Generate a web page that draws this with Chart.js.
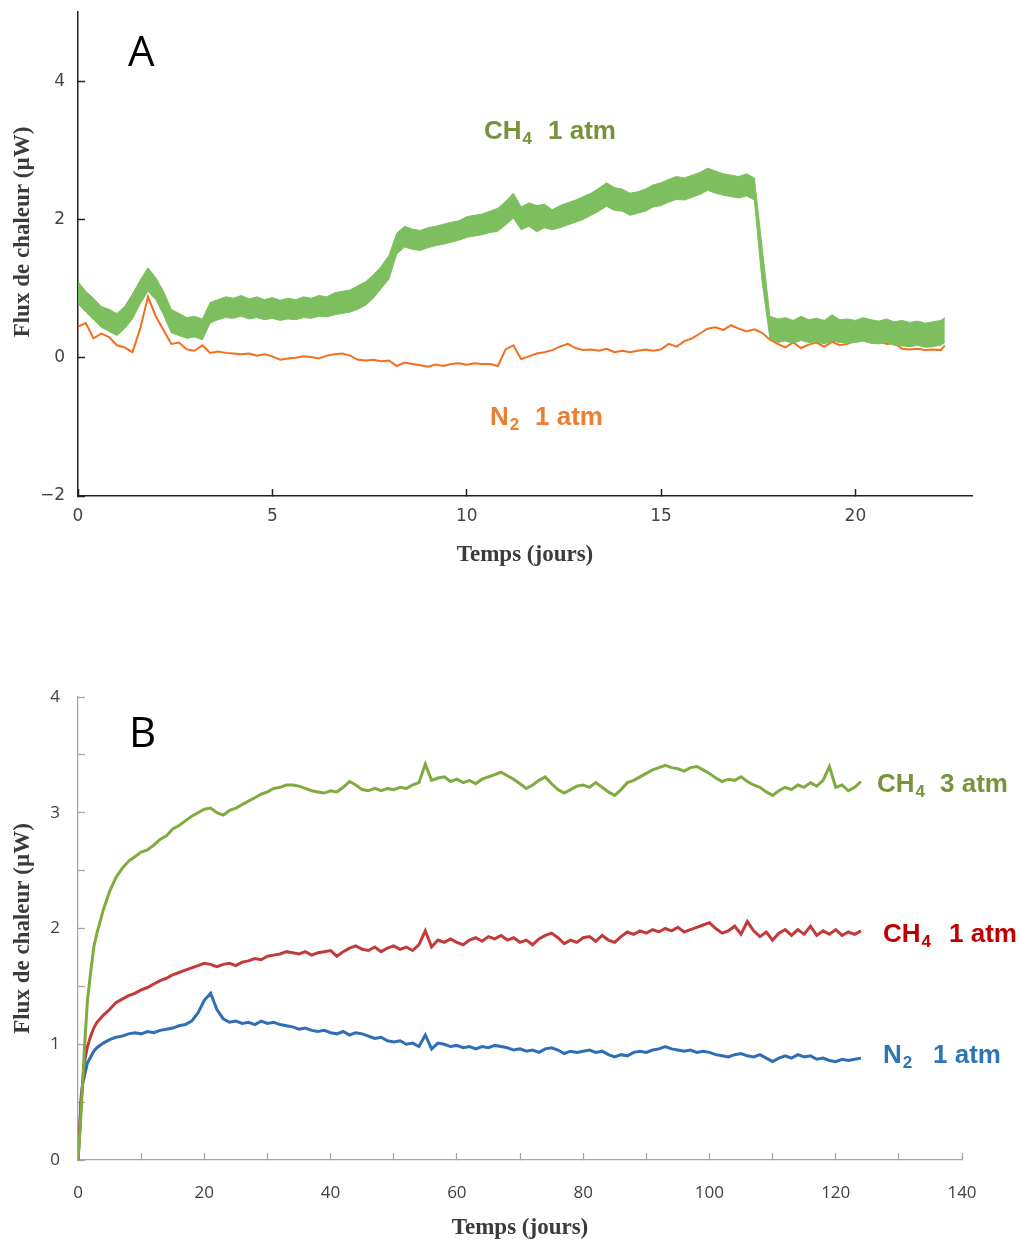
<!DOCTYPE html>
<html>
<head>
<meta charset="utf-8">
<script src="https://cdn.jsdelivr.net/npm/chart.js@4.4.1/dist/chart.umd.min.js"></script>
<style>
  body { margin: 0; background: #fff; }
  #wrap { position: relative; width: 1020px; height: 1245px; }
  canvas { position: absolute; left: 0; }
  #chartA { top: 0; }
  #chartB { top: 600px; }
</style>
</head>
<body>
<div id="wrap">
  <canvas id="chartA" width="1020" height="580"></canvas>
  <canvas id="chartB" width="1020" height="645"></canvas>
</div>
<script>
// ---- Panel A : 1 atm, 0-22 jours ----
const daysA = [
  0, 0.2, 0.4, 0.6, 0.8, 1, 1.2, 1.4, 1.6, 1.8,
  2, 2.2, 2.4, 2.6, 2.8, 3, 3.2, 3.4, 3.6, 3.8,
  4, 4.2, 4.4, 4.6, 4.8, 5, 5.2, 5.4, 5.6, 5.8,
  6, 6.2, 6.4, 6.6, 6.8, 7, 7.2, 7.4, 7.6, 7.8,
  8, 8.2, 8.4, 8.6, 8.8, 9, 9.2, 9.4, 9.6, 9.8,
  10, 10.2, 10.4, 10.6, 10.8, 11, 11.2, 11.4, 11.6, 11.8,
  12, 12.2, 12.4, 12.6, 12.8, 13, 13.2, 13.4, 13.6, 13.8,
  14, 14.2, 14.4, 14.6, 14.8, 15, 15.2, 15.4, 15.6, 15.8,
  16, 16.2, 16.4, 16.6, 16.8, 17, 17.2, 17.4, 17.6, 17.8,
  18, 18.2, 18.4, 18.6, 18.8, 19, 19.2, 19.4, 19.6, 19.8,
  20, 20.2, 20.4, 20.6, 20.8, 21, 21.2, 21.4, 21.6, 21.8,
  22, 22.2, 22.3
];
// CH4 1 atm: the signal is a noisy band, kept as its upper and lower envelope
const ch4UpperA = [
  1.10, 0.96, 0.86, 0.74, 0.70, 0.64, 0.74, 0.92, 1.12, 1.30,
  1.16, 0.96, 0.70, 0.64, 0.58, 0.60, 0.56, 0.80, 0.84, 0.88,
  0.86, 0.90, 0.85, 0.88, 0.84, 0.87, 0.83, 0.86, 0.84, 0.88,
  0.86, 0.90, 0.88, 0.94, 0.96, 0.98, 1.04, 1.10, 1.20, 1.32,
  1.48, 1.80, 1.90, 1.86, 1.84, 1.88, 1.90, 1.93, 1.96, 1.98,
  2.04, 2.06, 2.08, 2.12, 2.16, 2.26, 2.38, 2.18, 2.24, 2.20,
  2.22, 2.14, 2.20, 2.24, 2.28, 2.33, 2.38, 2.45, 2.53, 2.46,
  2.44, 2.38, 2.40, 2.44, 2.50, 2.53, 2.58, 2.62, 2.60, 2.64,
  2.68, 2.74, 2.70, 2.66, 2.64, 2.62, 2.66, 2.60, 1.60, 0.60,
  0.56, 0.58, 0.54, 0.60, 0.55, 0.57, 0.54, 0.62, 0.55, 0.56,
  0.54, 0.58, 0.55, 0.53, 0.56, 0.52, 0.54, 0.51, 0.53, 0.50,
  0.52, 0.54, 0.58
];
const ch4LowerA = [
  0.78, 0.66, 0.55, 0.44, 0.38, 0.32, 0.42, 0.56, 0.78, 0.96,
  0.84, 0.62, 0.36, 0.32, 0.28, 0.30, 0.26, 0.50, 0.55, 0.58,
  0.57, 0.60, 0.56, 0.58, 0.55, 0.57, 0.54, 0.56, 0.55, 0.58,
  0.57, 0.60, 0.59, 0.62, 0.64, 0.66, 0.70, 0.76, 0.86, 1.00,
  1.14, 1.50, 1.60, 1.57, 1.55, 1.59, 1.62, 1.64, 1.67, 1.70,
  1.74, 1.76, 1.78, 1.81, 1.83, 1.92, 2.02, 1.85, 1.90, 1.82,
  1.88, 1.85, 1.88, 1.92, 1.96, 2.00, 2.06, 2.12, 2.19, 2.13,
  2.12, 2.06, 2.09, 2.12, 2.18, 2.20, 2.25, 2.29, 2.28, 2.32,
  2.36, 2.42, 2.38, 2.35, 2.33, 2.31, 2.34, 2.28, 1.10, 0.28,
  0.22, 0.24, 0.21, 0.25, 0.22, 0.23, 0.20, 0.24, 0.22, 0.21,
  0.22, 0.24, 0.21, 0.20, 0.22, 0.18, 0.17, 0.16, 0.18, 0.15,
  0.16, 0.18, 0.22
];
const n2A = [
  0.45, 0.50, 0.28, 0.35, 0.30, 0.18, 0.15, 0.08, 0.42, 0.88,
  0.60, 0.40, 0.20, 0.22, 0.12, 0.10, 0.18, 0.07, 0.09, 0.07,
  0.06, 0.05, 0.06, 0.03, 0.05, 0.02, -0.03, -0.01, 0.00, 0.02,
  0.01, -0.01, 0.03, 0.05, 0.06, 0.03, -0.03, -0.04, -0.03, -0.05,
  -0.04, -0.12, -0.07, -0.09, -0.11, -0.13, -0.10, -0.12, -0.09, -0.08,
  -0.10, -0.08, -0.09, -0.09, -0.12, 0.12, 0.18, -0.02, 0.02, 0.06,
  0.08, 0.11, 0.16, 0.20, 0.14, 0.11, 0.12, 0.10, 0.13, 0.08,
  0.10, 0.08, 0.10, 0.12, 0.10, 0.12, 0.20, 0.16, 0.24, 0.28,
  0.35, 0.42, 0.44, 0.40, 0.47, 0.42, 0.38, 0.41, 0.36, 0.26,
  0.20, 0.15, 0.22, 0.14, 0.19, 0.22, 0.16, 0.23, 0.18, 0.20,
  0.25, 0.26, 0.22, 0.24, 0.20, 0.21, 0.13, 0.12, 0.13, 0.11,
  0.12, 0.11, 0.18
];

// ---- Panel B : 0-124 jours ----
const daysB = [
  0, 0.25, 0.5, 0.75, 1, 1.5, 2, 2.5, 3,
  4, 5, 6, 7, 8, 9, 10, 11, 12, 13,
  14, 15, 16, 17, 18, 19, 20, 21, 22, 23,
  24, 25, 26, 27, 28, 29, 30, 31, 32, 33,
  34, 35, 36, 37, 38, 39, 40, 41, 42, 43,
  44, 45, 46, 47, 48, 49, 50, 51, 52, 53,
  54, 55, 56, 57, 58, 59, 60, 61, 62, 63,
  64, 65, 66, 67, 68, 69, 70, 71, 72, 73,
  74, 75, 76, 77, 78, 79, 80, 81, 82, 83,
  84, 85, 86, 87, 88, 89, 90, 91, 92, 93,
  94, 95, 96, 97, 98, 99, 100, 101, 102, 103,
  104, 105, 106, 107, 108, 109, 110, 111, 112, 113,
  114, 115, 116, 117, 118, 119, 120, 121, 122, 123,
  124
];
const ch4_3atmB = [
  0, 0.20, 0.42, 0.68, 0.95, 1.38, 1.62, 1.84, 1.96,
  2.16, 2.32, 2.44, 2.52, 2.58, 2.62, 2.66, 2.68, 2.72, 2.77,
  2.80, 2.86, 2.89, 2.93, 2.97, 3.00, 3.03, 3.04, 3.00, 2.98,
  3.02, 3.04, 3.07, 3.10, 3.13, 3.16, 3.18, 3.21, 3.22, 3.24,
  3.24, 3.23, 3.21, 3.19, 3.18, 3.17, 3.19, 3.18, 3.22, 3.27,
  3.24, 3.20, 3.19, 3.21, 3.19, 3.21, 3.20, 3.22, 3.21, 3.24,
  3.26, 3.42, 3.28, 3.30, 3.31, 3.27, 3.29, 3.26, 3.28, 3.25,
  3.29, 3.31, 3.33, 3.35, 3.32, 3.29, 3.25, 3.21, 3.24, 3.28,
  3.31, 3.25, 3.20, 3.17, 3.20, 3.23, 3.24, 3.22, 3.26, 3.22,
  3.18, 3.15, 3.20, 3.26, 3.28, 3.31, 3.34, 3.37, 3.39, 3.41,
  3.39, 3.38, 3.36, 3.39, 3.40, 3.37, 3.34, 3.30, 3.27, 3.29,
  3.28, 3.31, 3.27, 3.24, 3.22, 3.18, 3.15, 3.19, 3.22, 3.20,
  3.24, 3.22, 3.26, 3.23, 3.28, 3.40, 3.22, 3.24, 3.19, 3.22,
  3.27
];
const ch4_1atmB = [
  0, 0.26, 0.50, 0.68, 0.84, 0.98, 1.07, 1.14, 1.19,
  1.25, 1.30, 1.36, 1.39, 1.42, 1.44, 1.47, 1.49, 1.52, 1.55,
  1.57, 1.60, 1.62, 1.64, 1.66, 1.68, 1.70, 1.69, 1.67, 1.69,
  1.70, 1.68, 1.71, 1.72, 1.74, 1.73, 1.76, 1.77, 1.78, 1.80,
  1.79, 1.78, 1.80, 1.77, 1.79, 1.80, 1.81, 1.76, 1.80, 1.83,
  1.85, 1.82, 1.81, 1.84, 1.80, 1.83, 1.85, 1.82, 1.84, 1.81,
  1.86, 1.98, 1.84, 1.90, 1.88, 1.91, 1.88, 1.86, 1.90, 1.92,
  1.89, 1.93, 1.91, 1.94, 1.90, 1.92, 1.88, 1.90, 1.86, 1.91,
  1.94, 1.96, 1.92, 1.87, 1.90, 1.88, 1.92, 1.93, 1.89, 1.94,
  1.90, 1.88, 1.93, 1.97, 1.95, 1.98, 1.96, 1.99, 1.97, 2.00,
  1.98, 2.01, 1.97, 1.99, 2.01, 2.03, 2.05, 2.00, 1.96, 1.98,
  2.02, 1.95, 2.06, 1.98, 1.93, 1.97, 1.90, 1.96, 1.99, 1.94,
  1.99, 1.95, 2.02, 1.94, 1.98, 1.95, 1.99, 1.94, 1.97, 1.95,
  1.98
];
const n2B = [
  0, 0.22, 0.55, 0.66, 0.72, 0.84, 0.89, 0.94, 0.97,
  1.01, 1.04, 1.06, 1.07, 1.09, 1.10, 1.09, 1.11, 1.10, 1.12,
  1.13, 1.14, 1.16, 1.17, 1.20, 1.27, 1.38, 1.44, 1.30, 1.22,
  1.19, 1.20, 1.18, 1.19, 1.17, 1.20, 1.18, 1.19, 1.17, 1.16,
  1.15, 1.13, 1.14, 1.12, 1.11, 1.12, 1.10, 1.09, 1.11, 1.08,
  1.10, 1.09, 1.07, 1.05, 1.06, 1.03, 1.02, 1.03, 1.00, 1.01,
  0.98, 1.08, 0.96, 1.01, 1.00, 0.98, 0.99, 0.97, 0.98, 0.96,
  0.98, 0.97, 0.99, 0.98, 0.97, 0.95, 0.96, 0.94, 0.95, 0.93,
  0.96, 0.97, 0.95, 0.92, 0.94, 0.93, 0.94, 0.95, 0.93, 0.94,
  0.91, 0.89, 0.91, 0.90, 0.93, 0.94, 0.93, 0.95, 0.96, 0.98,
  0.96, 0.95, 0.94, 0.95, 0.93, 0.94, 0.93, 0.91, 0.90, 0.89,
  0.91, 0.92, 0.90, 0.89, 0.91, 0.88, 0.85, 0.88, 0.90, 0.88,
  0.91, 0.89, 0.90, 0.87, 0.88, 0.86, 0.85, 0.87, 0.86, 0.87,
  0.88
];

function pts(xs, ys) {
  return xs.map(function (x, i) { return { x: x, y: ys[i] }; });
}

const labelFont = 'bold 26px "Liberation Sans", Arial, sans-serif';
const titleFont = { family: '"Liberation Serif", "Times New Roman", serif', size: 23, weight: 'bold' };

// draws the curve names (with subscripts), the panel letters and rotated titles
const textLabels = {
  id: 'textLabels',
  afterDatasetsDraw(chart, args, opts) {
    const ctx = chart.ctx;
    ctx.save();
    ctx.textAlign = 'left';
    ctx.textBaseline = 'alphabetic';
    (opts.items || []).forEach(function (it) {
      ctx.fillStyle = it.color;
      if (it.rotate) {
        ctx.save();
        ctx.translate(it.x, it.y);
        ctx.rotate(-Math.PI / 2);
        ctx.font = it.font;
        ctx.textAlign = 'center';
        ctx.textBaseline = 'middle';
        ctx.fillText(it.main, 0, 0);
        ctx.restore();
        return;
      }
      ctx.font = it.font || labelFont;
      ctx.fillText(it.main, it.x, it.y);
      if (it.sub) {
        const w = ctx.measureText(it.main).width;
        ctx.font = 'bold 17px "Liberation Sans", Arial, sans-serif';
        ctx.fillText(it.sub, it.x + w + 1, it.y + 5);
      }
      if (it.rest) {
        ctx.font = it.font || labelFont;
        ctx.fillText(it.rest, it.restX, it.y);
      }
    });
    ctx.restore();
  }
};

new Chart(document.getElementById('chartA'), {
  type: 'line',
  data: {
    datasets: [{
      label: 'CH4 1 atm (haut)',
      data: pts(daysA, ch4UpperA),
      borderColor: '#7dbf5f',
      borderWidth: 1,
      pointRadius: 0,
      fill: false
    }, {
      label: 'CH4 1 atm (bas)',
      data: pts(daysA, ch4LowerA),
      borderColor: '#7dbf5f',
      backgroundColor: '#7dbf5f',
      borderWidth: 1,
      pointRadius: 0,
      fill: '-1'
    }, {
      label: 'N2 1 atm',
      data: pts(daysA, n2A),
      borderColor: '#f66d1c',
      borderWidth: 2,
      pointRadius: 0,
      fill: false
    }]
  },
  options: {
    responsive: false,
    animation: false,
    devicePixelRatio: 1,
    layout: { padding: { top: 12, right: 48, left: 0, bottom: 0 } },
    scales: {
      x: {
        type: 'linear',
        min: 0,
        max: 23,
        border: { color: '#222', width: 1.5 },
        grid: { drawOnChartArea: false, tickLength: -7, tickColor: '#222', tickWidth: 1.5 },
        ticks: {
          stepSize: 5, includeBounds: false, padding: 17, maxRotation: 0,
          color: '#444', font: { family: '"DejaVu Sans", sans-serif', size: 17 }
        },
        title: { display: true, text: 'Temps (jours)', color: '#3b3b3b', font: titleFont, padding: { top: 0, bottom: 11 } },
        afterFit(scale) { scale.height = 84; scale.paddingLeft = 0; scale.paddingRight = 0; }
      },
      y: {
        min: -2,
        max: 5,
        border: { color: '#222', width: 1.5 },
        grid: { drawOnChartArea: false, tickLength: -7, tickColor: '#222', tickWidth: 1.5 },
        ticks: {
          stepSize: 2, includeBounds: false, padding: 20,
          color: '#444', font: { family: '"DejaVu Sans", sans-serif', size: 17 },
          callback: function (v) { return v < 0 ? '\u2212' + Math.abs(v) : String(v); }
        },
        title: { display: false },
        afterFit(scale) { scale.width = 78; scale.paddingTop = 0; scale.paddingBottom = 0; }
      }
    },
    plugins: {
      legend: { display: false },
      tooltip: { enabled: false },
      textLabels: {
        items: [
          { main: 'Flux de chaleur (µW)', rotate: true, x: 23, y: 232, color: '#3b3b3b', font: 'bold 23px "Liberation Serif", "Times New Roman", serif' },
          { main: 'A', x: 128, y: 66, color: '#000', font: '42px "Open Sans", sans-serif' },
          { main: 'CH', sub: '4', rest: '1 atm', x: 484, restX: 548, y: 139, color: '#76923c' },
          { main: 'N', sub: '2', rest: '1 atm', x: 490, restX: 535, y: 425, color: '#ed7d31' }
        ]
      }
    }
  },
  plugins: [textLabels]
});

new Chart(document.getElementById('chartB'), {
  type: 'line',
  data: {
    datasets: [{
      label: 'CH4 3 atm',
      data: pts(daysB, ch4_3atmB),
      borderColor: '#7fab3f',
      borderWidth: 3,
      pointRadius: 0,
      fill: false
    }, {
      label: 'CH4 1 atm',
      data: pts(daysB, ch4_1atmB),
      borderColor: '#c23a3a',
      borderWidth: 3,
      pointRadius: 0,
      fill: false
    }, {
      label: 'N2 1 atm',
      data: pts(daysB, n2B),
      borderColor: '#2f6db5',
      borderWidth: 3,
      pointRadius: 0,
      fill: false
    }]
  },
  options: {
    responsive: false,
    animation: false,
    devicePixelRatio: 1,
    layout: { padding: { top: 97, right: 58, left: 0, bottom: 0 } },
    scales: {
      x: {
        type: 'linear',
        min: 0,
        max: 140,
        border: { color: '#a6a6a6', width: 1.3 },
        grid: { drawOnChartArea: false, tickLength: -7, tickColor: '#a6a6a6', tickWidth: 1.3 },
        ticks: {
          stepSize: 10, autoSkip: false, padding: 30, maxRotation: 0,
          color: '#404040', font: { family: '"Open Sans", sans-serif', size: 17 },
          callback: function (v) { return v % 20 === 0 ? String(v) : ''; }
        },
        title: { display: true, text: 'Temps (jours)', color: '#3b3b3b', font: titleFont, padding: { top: 0, bottom: 3 } },
        afterFit(scale) { scale.height = 85; scale.paddingLeft = 0; scale.paddingRight = 0; }
      },
      y: {
        min: 0,
        max: 4,
        border: { color: '#a6a6a6', width: 1.3 },
        grid: { drawOnChartArea: false, tickLength: -7, tickColor: '#a6a6a6', tickWidth: 1.3 },
        ticks: {
          stepSize: 0.5, autoSkip: false, padding: 25,
          color: '#404040', font: { family: '"Open Sans", sans-serif', size: 17 },
          callback: function (v) { return Number.isInteger(v) ? String(v) : ''; }
        },
        title: { display: true, text: 'Flux de chaleur (µW)', color: '#3b3b3b', font: titleFont, padding: { top: 9, bottom: 0 } },
        afterFit(scale) { scale.width = 78; scale.paddingTop = 0; scale.paddingBottom = 0; }
      }
    },
    plugins: {
      legend: { display: false },
      tooltip: { enabled: false },
      textLabels: {
        items: [
          { main: 'B', x: 129, y: 147, color: '#000', font: '42px "Open Sans", sans-serif' },
          { main: 'CH', sub: '4', rest: '3 atm', x: 877, restX: 940, y: 192, color: '#77933c' },
          { main: 'CH', sub: '4', rest: '1 atm', x: 883, restX: 949, y: 342, color: '#c00000' },
          { main: 'N', sub: '2', rest: '1 atm', x: 883, restX: 933, y: 463, color: '#2e75b6' }
        ]
      }
    }
  },
  plugins: [textLabels]
});
</script>
</body>
</html>
